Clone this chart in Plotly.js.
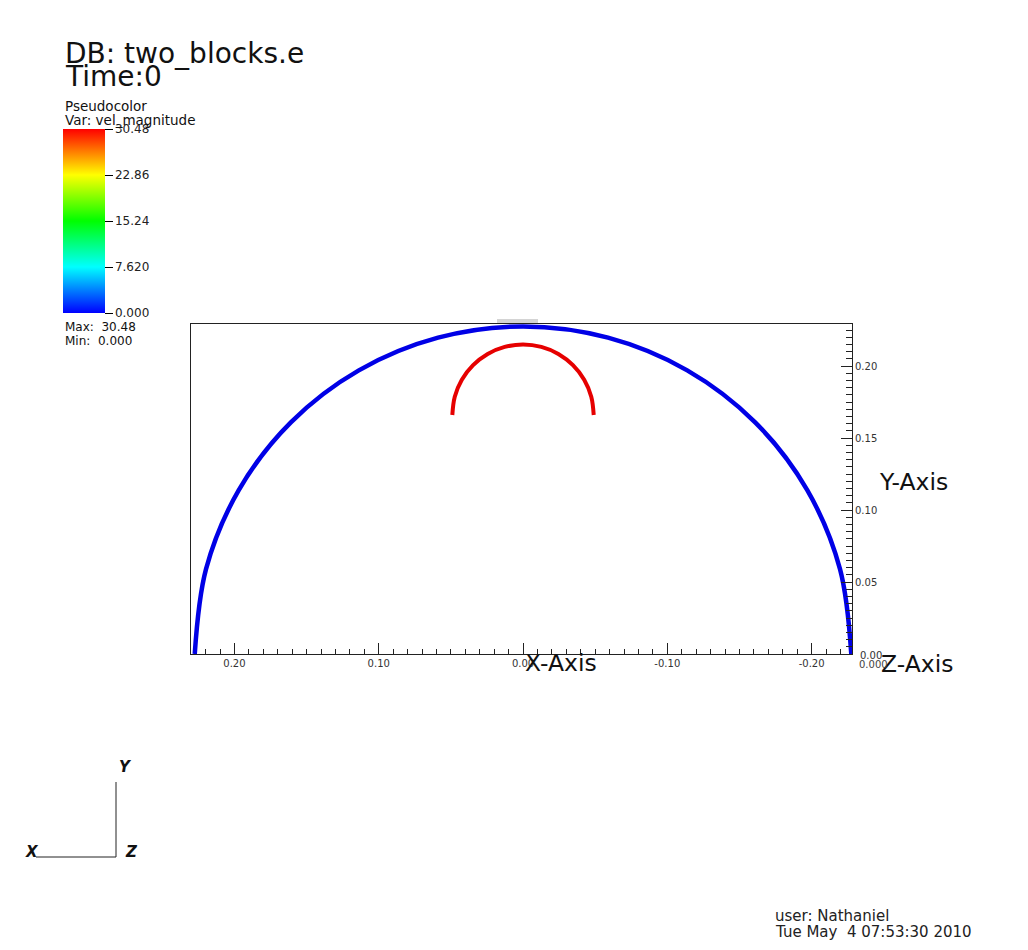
<!DOCTYPE html>
<html>
<head>
<meta charset="utf-8">
<script src="https://cdn.plot.ly/plotly-3.0.1.min.js"></script>
<style>
html,body{margin:0;padding:0;background:#fff;}
#chart{width:1028px;height:950px;}
</style>
</head>
<body>
<div id="chart"></div>
<script>
// ---- data ----
// outer boundary arc (drawn blue, vel_magnitude = 0)
const outerX = [0.2275, 0.2197, 0.1970, 0.1609, 0.1138, 0.0589, 0.0, -0.0589, -0.1138, -0.1609, -0.1970, -0.2197, -0.2275];
const outerY = [0.0, 0.0589, 0.1138, 0.1609, 0.1970, 0.2197, 0.2275, 0.2197, 0.1970, 0.1609, 0.1138, 0.0589, 0.0];
// inner arc (drawn red, vel_magnitude = 30.48)
const innerX = [0.049, 0.0473, 0.0424, 0.0346, 0.0245, 0.0127, 0.0, -0.0127, -0.0245, -0.0346, -0.0424, -0.0473, -0.049];
const innerY = [0.166, 0.1787, 0.1905, 0.2006, 0.2084, 0.2133, 0.215, 0.2133, 0.2084, 0.2006, 0.1905, 0.1787, 0.166];
const arcValues = [0.0, 30.48];
const velMin = 0.0;
const velMax = 30.48;
const cbTickVals = [0.0, 7.62, 15.24, 22.86, 30.48];
const cbTickText = ['0.000', '7.620', '15.24', '22.86', '30.48'];
const xTickVals = [0.2, 0.1, 0.0, -0.1, -0.2];
const xTickText = ['0.20', '0.10', '0.00', '-0.10', '-0.20'];
const yTickVals = [0.05, 0.1, 0.15, 0.2];
const yTickText = ['0.05', '0.10', '0.15', '0.20'];

// ---- layout helpers (pixel -> paper) ----
const W = 1028, H = 950;
const PL = 191, PR = 852, PT = 324, PB = 654;
const fx = px => (px - PL) / (PR - PL);
const fy = py => (PB - py) / (PB - PT);
const FONT = 'DejaVu Sans, Liberation Sans, sans-serif';

const rainbow = [[0, 'rgb(0,0,255)'], [0.25, 'rgb(0,255,255)'], [0.5, 'rgb(0,255,0)'], [0.75, 'rgb(255,255,0)'], [1, 'rgb(255,0,0)']];

const traces = [
  {x: outerX, y: outerY, mode: 'lines', line: {color: 'rgb(0,0,230)', width: 4.5, shape: 'spline'}, hoverinfo: 'skip', showlegend: false},
  {x: innerX, y: innerY, mode: 'lines', line: {color: 'rgb(230,0,0)', width: 4, shape: 'spline'}, hoverinfo: 'skip', showlegend: false},
  {x: [0, 0], y: [-1, -1], mode: 'markers', hoverinfo: 'skip', showlegend: false,
   marker: {color: arcValues, cmin: velMin, cmax: velMax, colorscale: rainbow, showscale: true, size: 1,
     colorbar: {xref: 'paper', yref: 'paper', x: fx(63), xanchor: 'left', y: fy(313), yanchor: 'bottom',
       len: 184, lenmode: 'pixels', thickness: 42, thicknessmode: 'pixels', xpad: 0, ypad: 0,
       outlinewidth: 0, ticks: 'outside', ticklen: 8, tickwidth: 1, tickcolor: '#000',
       tickmode: 'array', tickvals: cbTickVals, ticktext: cbTickText,
       tickfont: {family: FONT, size: 12, color: '#222'}}}}
];

function ann(text, px, py, size, opts) {
  return Object.assign({text: text, xref: 'paper', yref: 'paper', x: fx(px), y: fy(py), xanchor: 'left', yanchor: 'middle',
    showarrow: false, font: {family: FONT, size: size, color: '#111'}}, opts || {});
}

const annotations = [
  ann('DB: two_blocks.e', 63, 53, 28),
  ann('Time:0', 63, 77, 28),
  ann('Pseudocolor', 63, 106, 13.5),
  ann('Var: vel_magnitude', 63, 120, 13.5),
  ann('Max:  30.48', 63, 327, 12),
  ann('Min:  0.000', 63, 341, 12),
  ann('X-Axis', 523, 663, 23.5),
  ann('Y-Axis', 877, 482, 23.5),
  ann('Z-Axis', 879, 664, 23.5),
  ann('0.00', 858, 655, 10, {font: {family: FONT, size: 10, color: '#333'}}),
  ann('0.000', 857, 664, 10, {font: {family: FONT, size: 10, color: '#444'}}),
  ann('<b><i>Y</i></b>', 125, 767, 15, {xanchor: 'center'}),
  ann('<b><i>X</i></b>', 32, 852, 15, {xanchor: 'center'}),
  ann('<b><i>Z</i></b>', 131, 852, 15, {xanchor: 'center'}),
  ann('user: Nathaniel', 773, 916, 15, {font: {family: FONT, size: 15, color: '#222'}}),
  ann('Tue May  4 07:53:30 2010', 773, 932, 15, {font: {family: FONT, size: 15, color: '#222'}})
];

const shapes = [
  {type: 'line', xref: 'paper', yref: 'paper', x0: fx(116), x1: fx(116), y0: fy(782), y1: fy(857), line: {color: '#222', width: 1}},
  {type: 'line', xref: 'paper', yref: 'paper', x0: fx(36), x1: fx(116), y0: fy(857), y1: fy(857), line: {color: '#222', width: 1}},
  {type: 'rect', xref: 'paper', yref: 'paper', x0: fx(497), x1: fx(538), y0: fy(323.5), y1: fy(319), line: {width: 0}, fillcolor: '#d4d4d4', layer: 'below'}
];

const axisCommon = {showgrid: false, zeroline: false, showline: true, linecolor: '#222', linewidth: 1, mirror: true,
  ticks: 'inside', ticklen: 11, tickwidth: 1, tickcolor: '#222', tickmode: 'array',
  tickfont: {family: FONT, size: 10, color: '#333'}, fixedrange: true};

const layout = {
  width: W, height: H,
  paper_bgcolor: '#fff', plot_bgcolor: '#fff',
  margin: {l: PL, r: W - PR, t: PT, b: H - PB, pad: 0},
  showlegend: false,
  xaxis: Object.assign({}, axisCommon, {range: [0.2301, -0.2280], tickvals: xTickVals, ticktext: xTickText,
    minor: {tickmode: 'linear', tick0: 0, dtick: 0.01, ticks: 'inside', ticklen: 5, tickcolor: '#222', tickwidth: 1}}),
  yaxis: Object.assign({}, axisCommon, {side: 'right', range: [0, 0.2292], tickvals: yTickVals, ticktext: yTickText,
    minor: {tickmode: 'linear', tick0: 0, dtick: 0.005, ticks: 'inside', ticklen: 6, tickcolor: '#222', tickwidth: 1}}),
  annotations: annotations,
  shapes: shapes
};

Plotly.newPlot('chart', traces, layout, {displayModeBar: false, staticPlot: true});
</script>
</body>
</html>
